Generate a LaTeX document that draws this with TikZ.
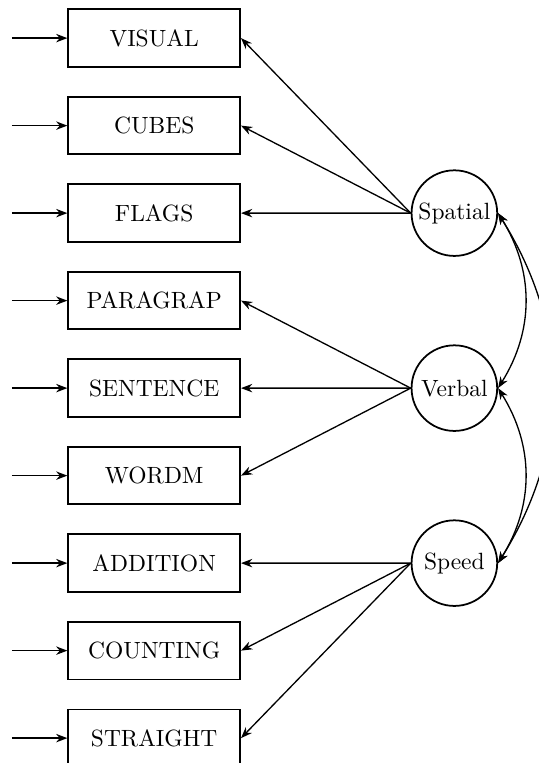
\documentclass[tikz,border=0pt]{standalone}
\usepackage{tikz}
\usetikzlibrary{arrows.meta,positioning}
\tikzset{
  ind/.style={draw,thick,minimum width=2.75cm,minimum height=0.92cm,inner sep=2pt,
              font=\fontsize{10.7}{13}\selectfont},
  lat/.style={draw,thick,circle,minimum size=1.37cm,inner sep=1pt,
              font=\fontsize{10.7}{13}\selectfont},
  load/.style={-{Stealth[length=1.8mm]},semithick},
  erre/.style={-{Stealth[length=1.8mm]},semithick},
  cove/.style={{Stealth[length=1.8mm]}-{Stealth[length=1.8mm]},semithick,bend left=32},
}

\begin{document}
\begin{tikzpicture}[x=1cm,y=1cm]
  \useasboundingbox (0,0) rectangle (8.608,-12.208);

  % ---------- indicators (left column) ----------
  \foreach \n/\t [count=\i from 0] in {vis/VISUAL,cub/CUBES,fla/FLAGS,
      par/PARAGRAP,sen/SENTENCE,wor/WORDM,add/ADDITION,cou/COUNTING,str/STRAIGHT}
  {
    \node[ind] (\n) at (2.467,{-0.61-1.4*\i}) {\t};
    \coordinate (\n err) at (0.19,{-0.61-1.4*\i});
    \draw[erre] (\n err) -- (\n.west);
  }

  % ---------- factors ----------
  \node[lat] (spa) at (7.27,-3.41) {Spatial};
  \node[lat] (ver) at (7.27,-6.21) {Verbal};
  \node[lat] (spe) at (7.27,-9.01) {Speed};

  % ---------- loadings ----------
  \foreach \n in {vis,cub,fla}
    {\draw[load] (spa.west) -- (\n.east);}
  \foreach \n in {par,sen,wor}
    {\draw[load] (ver.west) -- (\n.east);}
  \foreach \n in {add,cou,str}
    {\draw[load] (spe.west) -- (\n.east);}

  % ---------- factor covariances ----------
  \draw[cove] (spa.east) to (ver.east);
  \draw[cove] (ver.east) to (spe.east);
  \draw[cove] (spa.east) to (spe.east);
\end{tikzpicture}
\end{document}
